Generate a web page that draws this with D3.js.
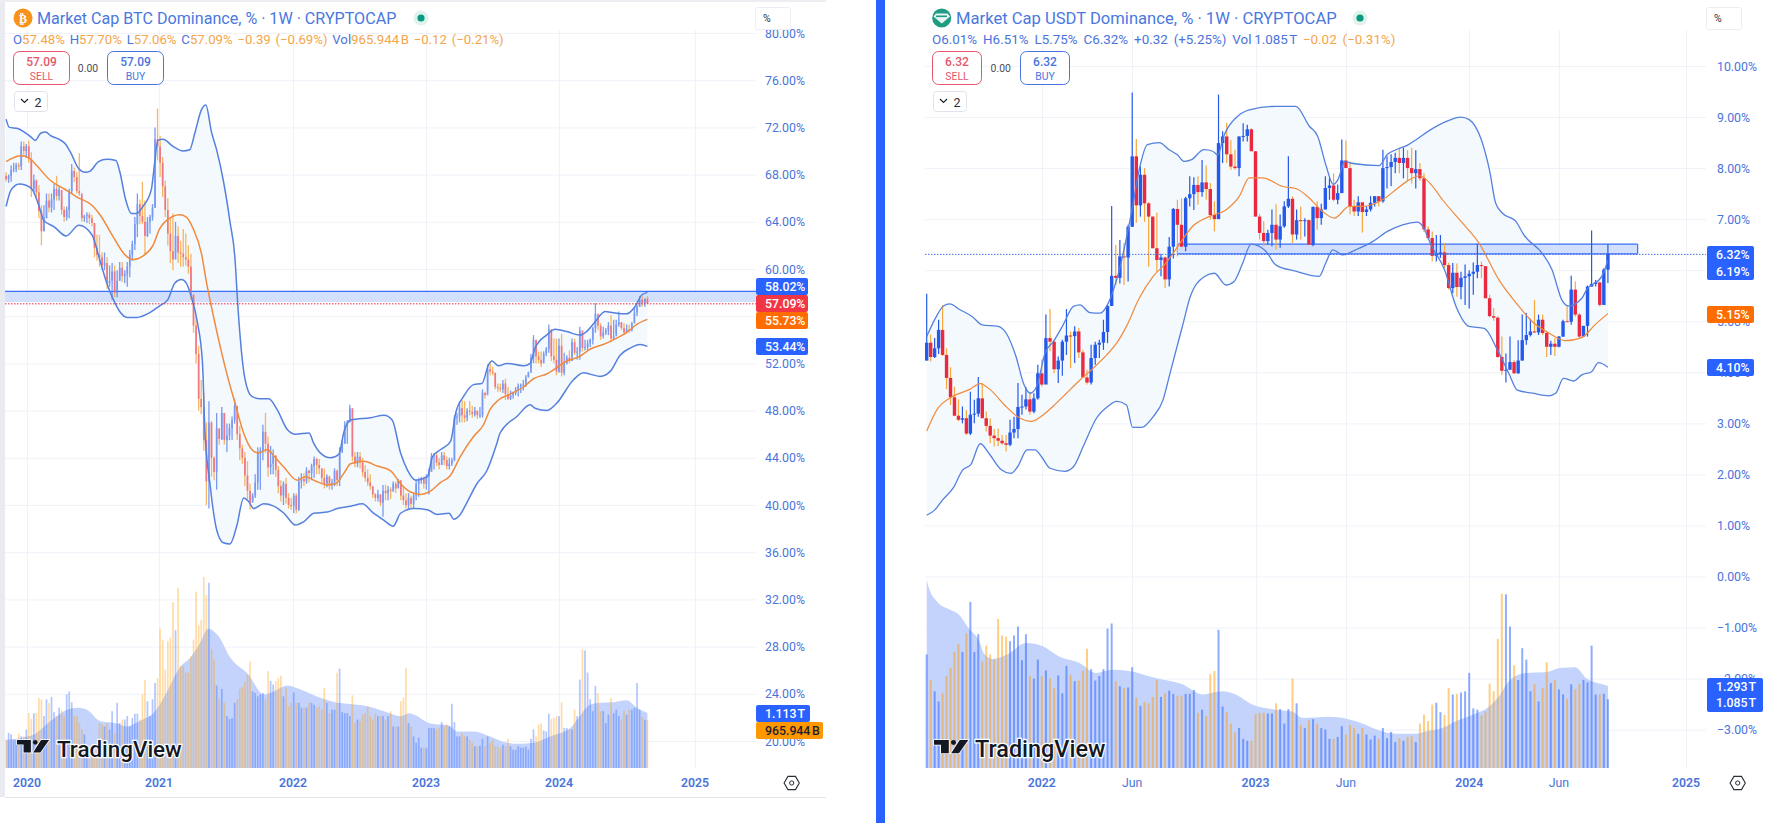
<!DOCTYPE html>
<html><head><meta charset="utf-8">
<style>html,body{margin:0;padding:0;background:#fff;overflow:hidden}svg{display:block}</style>
<script src="https://cdn.jsdelivr.net/npm/d3@7/dist/d3.min.js"></script>
</head><body><svg id="c" width="1767" height="823"></svg>
<script>
// ---------- BTC dominance, weekly bars from 2019-11-04 ----------
const btcStart = "2019-11-04";
const btcHigh = [
68.2,68.0,68.8,69.0,69.0,69.0,70.8,70.8,70.6,70.9, 69.9,68.0,67.6,67.1,65.4,65.4,66.4,66.4,66.4,67.2,
67.9,67.0,66.2,65.3,65.3,66.8,68.9,68.6,68.2,69.8, 65.1,64.6,64.8,64.8,64.6,63.9,62.9,62.9,61.4,61.4,
61.0,60.3,60.5,60.3,59.9,60.6,60.6,59.9,60.6,61.6, 62.4,64.4,66.4,65.9,67.4,65.8,64.4,64.6,65.5,72.0,
73.6,71.3,69.5,67.5,66.0,64.3,64.7,64.0,63.6,62.4, 63.4,63.0,62.0,61.3,57.9,56.0,53.5,50.6,49.5,47.0,
48.8,47.1,44.1,47.8,46.4,48.3,47.8,46.9,46.9,47.5, 49.0,47.2,46.7,45.1,44.5,43.7,41.8,41.0,42.6,44.9,
44.9,46.8,47.8,45.8,45.0,44.7,44.2,43.3,42.1,42.0, 42.3,41.0,40.6,41.0,41.0,42.4,42.7,42.7,43.2,43.0,
43.5,44.1,44.0,43.9,43.1,43.1,42.6,42.5,42.2,43.1, 43.0,44.9,45.5,47.1,47.2,48.5,48.1,44.5,44.5,44.5,
44.0,43.4,43.0,42.6,41.5,41.0,41.3,40.8,41.7,41.7, 41.6,41.5,42.0,42.0,42.2,41.8,41.6,41.0,41.0,40.8,
41.0,42.2,42.3,42.4,42.4,42.6,43.1,44.4,44.4,44.5, 44.0,44.5,44.5,44.1,44.0,44.0,47.6,47.8,48.8,48.9,
48.8,48.2,48.8,48.4,48.3,48.0,48.3,49.8,49.6,51.9, 52.1,51.7,51.2,50.3,50.3,50.6,50.7,50.0,49.7,49.6,
50.0,50.3,50.3,50.6,51.0,51.3,52.8,54.4,54.0,53.0, 53.0,53.0,53.4,55.3,54.1,54.1,54.1,54.1,54.5,52.9,
52.7,53.1,54.1,54.1,53.4,55.1,54.1,54.0,54.0,54.1, 55.1,57.1,55.7,55.4,55.1,55.0,55.5,56.1,55.7,55.7,
56.4,55.4,55.4,55.3,55.3,55.5,56.7,57.0,57.7,57.7, 57.5,57.70];
const btcLow = [
67.4,67.3,67.4,68.2,68.2,68.4,68.4,69.6,69.4,69.0, 66.1,66.5,66.0,64.3,62.0,63.2,64.3,64.8,64.8,65.0,
65.8,65.8,64.6,64.0,64.1,64.3,66.4,67.4,66.4,66.2, 64.0,64.0,63.9,63.8,63.6,61.0,60.7,60.2,59.9,59.9,
58.3,58.5,57.4,57.6,57.6,59.0,58.9,58.8,58.5,59.3, 60.7,61.6,62.7,63.8,63.8,61.2,62.7,63.0,64.1,65.2,
69.2,67.8,66.1,64.4,62.0,60.5,59.9,61.3,60.5,60.2, 60.2,60.3,59.6,57.4,54.6,52.0,48.0,47.7,44.6,40.0,
39.7,42.4,42.1,41.3,45.1,45.5,45.1,44.5,45.5,45.5, 46.9,45.5,43.8,43.5,41.6,40.4,39.6,40.4,40.6,41.3,
41.3,43.8,44.4,42.4,42.6,42.6,42.4,41.0,40.3,40.0, 40.1,39.7,39.6,39.3,39.3,39.5,41.4,41.6,41.8,41.9,
42.1,42.3,42.6,42.6,41.8,41.4,41.5,41.3,41.3,41.6, 41.6,41.6,44.4,45.2,45.2,47.2,43.7,43.2,43.2,43.1,
42.4,42.0,41.6,41.3,40.6,40.3,40.3,39.9,39.0,40.4, 40.4,40.5,41.1,41.0,41.5,40.4,40.0,39.7,39.6,39.7,
39.7,40.4,40.7,41.8,41.4,41.3,40.9,42.9,43.0,43.3, 43.0,43.4,43.4,43.0,43.0,43.3,43.7,46.8,47.0,47.0,
47.0,47.1,47.6,47.4,47.5,47.3,47.4,47.4,49.0,49.7, 51.0,51.0,49.8,49.6,49.6,49.5,48.9,48.9,48.9,49.0,
49.3,49.2,49.5,49.7,50.0,50.9,51.6,52.0,52.0,52.0, 51.7,52.3,52.6,52.9,52.2,52.0,51.0,51.2,50.9,51.0,
51.9,52.0,52.6,52.7,52.3,52.3,53.0,53.1,53.1,53.4, 53.6,54.6,54.8,54.0,54.1,54.4,54.4,53.8,54.0,54.6,
55.1,54.8,54.4,54.6,54.6,54.7,55.4,56.0,56.8,56.8, 56.8,57.06];
const btcClose = [
67.6,67.9,68.4,68.5,68.8,68.7,70.4,70.0,70.4,69.3, 66.8,67.5,66.5,64.9,63.2,64.3,65.8,65.2,65.9,66.8,
66.2,66.7,65.0,64.4,65.0,66.6,68.3,67.8,66.6,66.4, 64.3,64.5,64.6,64.3,63.9,61.8,61.2,61.0,60.3,60.5,
58.8,59.0,59.8,58.0,59.0,60.1,59.4,59.6,60.2,61.2, 62.1,63.8,65.5,64.5,64.0,62.8,64.0,64.4,65.2,71.0,
70.4,69.0,67.0,65.0,63.0,61.5,60.8,62.8,61.4,61.3, 61.0,60.8,60.2,57.8,55.2,52.8,49.0,48.3,45.5,42.0,
47.0,44.0,42.8,46.5,45.6,47.8,45.5,45.9,46.5,47.2, 48.4,46.0,44.8,44.0,42.5,41.2,40.2,40.8,41.9,44.5,
44.6,46.2,45.2,43.2,43.5,44.2,43.0,41.6,40.8,41.8, 40.6,40.0,39.9,40.8,39.6,42.0,42.2,42.0,42.9,42.7,
43.3,43.9,43.4,43.1,42.3,41.8,42.4,41.7,41.9,42.9, 42.1,44.5,45.2,46.8,47.0,48.2,44.1,43.5,44.1,43.6,
42.8,42.3,41.9,41.6,40.9,40.6,40.9,40.2,41.2,41.0, 41.3,41.2,41.8,41.4,42.1,40.8,40.4,40.0,40.6,40.1,
40.8,41.8,42.1,42.3,41.8,42.4,42.8,44.1,44.2,43.6, 43.4,44.2,43.8,43.3,43.5,43.8,47.4,47.5,48.2,47.6,
47.4,48.0,47.9,47.7,48.0,47.6,47.6,49.5,49.3,51.5, 51.3,51.2,50.0,49.9,49.8,50.3,49.4,49.0,49.3,49.5,
49.8,50.1,50.2,50.2,50.8,51.2,52.5,54.0,52.6,52.3, 52.0,52.8,53.2,54.9,52.6,52.3,51.3,53.5,51.2,52.0,
52.5,52.2,53.8,52.9,53.0,54.8,53.3,53.4,53.7,54.0, 55.0,56.2,55.2,54.3,54.6,54.8,55.2,54.1,54.3,55.3,
55.5,55.0,54.6,54.9,54.8,55.4,56.3,56.8,57.4,57.1, 57.48,57.09];
const btcFirstOpen = 67.9;
const btcVolume = [ // trillions
.57,.71,.68,.57,.57,.70,.64,.64,.78,1.11, .99,1.11,1.11,1.42,1.39,1.05,1.39,1.32,1.44,1.13,
1.05,1.22,1.17,1.05,1.49,1.55,1.33,1.05,1.05,.91, .78,.68,.37,.37,.27,.24,.44,.91,.88,.84,
.91,.78,1.15,.71,1.32,.91,.98,.98,1.05,.84, 1.01,1.10,1.10,.98,1.49,1.78,1.35,1.05,1.39,1.72,
1.82,2.82,2.60,1.99,2.57,2.64,3.36,2.79,3.65,2.06, 2.06,1.93,1.93,2.26,2.60,3.57,2.89,3.00,3.87,3.50,
3.75,2.40,2.20,1.67,1.39,1.60,1.32,1.05,.99,1.01, 1.32,1.39,1.60,1.64,1.74,1.89,2.16,1.55,1.52,1.45,
1.49,1.52,1.39,1.96,1.76,1.69,1.76,1.82,1.87,1.45, 1.62,1.25,1.32,1.53,1.32,1.32,1.22,1.22,1.22,1.33,
1.32,1.28,1.22,1.25,1.18,1.62,1.32,1.11,1.18,1.18, 1.93,2.01,1.13,1.11,1.11,1.05,1.47,.91,.98,.95,
1.08,1.11,1.25,1.05,.98,1.10,1.05,1.05,1.05,.98, 1.05,1.15,.84,.84,.84,1.35,1.42,2.03,.91,.84,
.64,.51,.61,.41,.41,.41,.81,.81,.81,.78, .81,.93,.84,.88,.84,1.30,.93,.64,.64,.70,
.64,.64,.57,.51,.44,.44,.45,.59,.44,.64, .51,.57,.44,.44,.41,.47,.44,.59,.44,.37,
.37,.44,.41,.41,.43,.37,.59,.78,.64,.88, .90,.76,.74,1.10,.99,1.01,1.05,1.05,1.33,.81,
.81,.78,.78,1.18,1.05,1.79,2.40,2.38,1.93,1.39, 1.15,1.66,1.51,1.15,1.15,.91,1.08,1.42,1.11,1.18,
1.05,.98,1.15,1.08,1.18,1.18,1.22,1.72,1.18,1.03, .98,.966];
const btcUpperBand = [[0,72.7],[1.3,72],[4.6,71.9],[7.2,71.6],[9.8,71.2],[11.5,70.9],[13.7,71.5],[15.7,71.6],[17.6,71.3],[20.9,71],[23.5,70.6],[25.5,69.9],[28.8,68.5],[31.4,68.2],[33.3,68.3],[36.6,69.1],[39.9,69.3],[43.5,69.2],[45.1,68.2],[47.1,66.1],[49.7,64.7],[51.6,64.7],[54.2,65.3],[57.5,66.7],[58.8,68.9],[60.1,70.9],[62.1,71],[66,70.4],[69.9,70],[72.5,70.1],[74.5,71.5],[77.1,73.5],[78.8,73.9],[81,71.6],[83,70.1],[85.6,67.5],[88.2,64],[90.2,60.7],[91.1,57.4],[94.1,50.6],[96.7,49.2],[100,49],[103.3,49],[106.5,48.1],[110.5,46.4],[113.7,46],[119,46.1],[120.9,45.2],[123.5,44.4],[127.5,44],[130.7,44.3],[132.7,46.2],[135.3,47.2],[143.1,47.4],[148.4,47.6],[151.6,47.2],[154.9,44.4],[157.5,43],[160.8,42.1],[165.4,42.4],[167.4,44.1],[170.6,44.7],[174.5,45.4],[176.5,47.8],[179.6,49.2],[183.5,50.2],[186.8,50.3],[189.4,51.9],[190.7,52.2],[193.3,51.8],[196.6,52],[203.1,51.8],[205.7,52],[207.6,53.3],[212.1,54.4],[215.5,54.9],[220,54.7],[225,54.4],[227.6,54.7],[230.8,55.5],[234.7,56.4],[237.9,56.3],[243,56.2],[246.2,56.8],[248.8,57.8],[251,58.02]];
const btcBasis = [[0,69.1],[2.6,69.4],[5.9,69.6],[9.2,69.4],[12.4,68.7],[17.6,67.5],[22.9,66.8],[28.1,66.1],[34,65.4],[37.2,64.6],[42.5,62.7],[47.1,61.2],[50.3,60.8],[54.2,61.1],[58.2,62],[60.8,63.4],[63.4,64.1],[68.6,64.6],[71.2,64.4],[73.9,63.4],[77.1,61.3],[79.1,58.8],[80.4,57.4],[87.6,50.6],[90.2,48.6],[93.5,46.1],[96.7,44.7],[99.3,44.4],[102.6,44.7],[105.9,44],[109.2,43.2],[114.4,42.1],[117.7,42.4],[120.9,42.1],[126.2,41.7],[129.4,41.8],[132.7,42.7],[135.3,43.5],[140.5,43.7],[145.7,43.3],[151,42.9],[154.9,41.8],[158.8,41.1],[162.8,40.9],[166,41.1],[170.5,41.9],[174.4,42.5],[178.3,44.1],[183.5,45.8],[187.4,46.8],[190,48.1],[193.3,48.9],[197.9,49.4],[203.1,50],[207,50.7],[212.1,51.1],[220,52.2],[225,52.6],[228.9,53.2],[234,53.6],[237.9,54],[243,54.6],[246.9,55.3],[251,55.73]];
const btcLowerBand = [[0,65.3],[2,66.7],[5.2,67.2],[7.8,67.1],[10.5,66.7],[13.1,65.3],[15,64.1],[18.9,63.6],[23.8,62.8],[28.8,63.7],[34,62.9],[37.2,60.7],[39.9,58.8],[42.5,57.4],[45,56.4],[48,55.9],[52,55.9],[56,56.2],[59,56.6],[61,56.9],[64,57.4],[66.7,58.8],[69.3,59.1],[71.2,58.8],[73.2,57.6],[75.5,55.5],[77.5,52],[78.4,46.4],[80.4,41.8],[83,37.9],[85.6,36.8],[88.2,36.7],[90.8,38.2],[93.5,40.6],[95.4,40.3],[97.4,39.7],[101.3,40.1],[105.2,39.9],[109.2,39.3],[113.7,38.3],[117,38.6],[120.9,39.3],[126.2,39.4],[130.1,39.7],[135.3,39.9],[139.9,40.1],[143.8,39.4],[148.4,38.7],[152,38.2],[154.9,39.3],[160.1,39.7],[165.4,39.6],[169.3,39.2],[173.9,39.3],[175.7,38.8],[178.3,39.2],[180.9,40.2],[184.8,41.8],[188.7,42.9],[192.6,45.2],[193.9,46.1],[200.5,47.5],[205.7,48.5],[207.6,48.2],[212.1,48],[216,48.6],[222.5,50.6],[226.4,51.2],[232.8,50.9],[236.6,51.3],[240.5,52.7],[244.4,53.3],[248.2,53.6],[251,53.44]];
const btcVolumeAvg = [[0,.57],[8.5,.64],[11.1,.68],[17.6,.95],[24.2,1.18],[28.1,1.22],[32,1.18],[37.2,.95],[43.8,.90],[47.7,.84],[53,.95],[59.5,1.18],[63.4,1.52],[68.6,2.03],[73.2,2.26],[76.5,2.53],[79.7,2.82],[83.7,2.67],[88.2,2.24],[95.4,1.89],[101.3,1.49],[105.2,1.55],[110.5,1.67],[115.7,1.59],[123.5,1.42],[130.1,1.32],[134,1.30],[141.8,1.25],[148.4,1.15],[155,1.05],[158.2,1.11],[166.7,.90],[173.9,.86],[177,.74],[183.5,.74],[190,.64],[196.6,.51],[201.8,.49],[207,.51],[213.5,.64],[221.3,.81],[225,1.05],[228.9,1.28],[232.8,1.32],[237.9,1.33],[243,1.37],[246.9,1.22],[251,1.113]];
const btcPriceTicks = [80,76,72,68,64,60,52,48,44,40,36,32,28,24,20];
const btcGridOnlyTicks = [56];
const btcTimeTicks = ["2020","2021","2022","2023","2024","2025"];

// ---------- USDT dominance, weekly bars from 2021-06-14 ----------
const usdtStart = "2021-06-14";
const usdtHigh = [
5.54,4.74,4.67,5.03,5.32,4.47,4.1,3.72,3.47,3.33, 3.26,3.62,3.46,3.91,3.79,3.23,3.1,2.89,2.9,2.77,
2.77,3.07,3.13,3.79,3.56,3.71,3.62,3.59,4.15,4.25, 5.13,5.24,4.64,4.31,4.64,5.24,4.8,4.9,4.87,4.44,
4.05,4.54,4.6,4.64,5.03,5.32,7.26,6.5,6.59,6.53, 6.89,9.48,8.57,8.03,8.0,7.33,7.05,7.13,6.32,6.27,
6.65,7.22,7.38,7.41,7.44,7.84,7.82,7.84,8.16,8.05, 7.71,7.35,9.44,8.72,8.89,8.55,8.36,8.62,8.88,8.85,
8.78,8.33,7.1,6.96,6.79,7.19,7.29,7.09,7.35,8.23, 7.45,7.19,7.25,7.02,7.0,7.25,7.35,7.3,7.84,7.81,
7.9,7.68,8.56,8.54,8.13,7.38,7.45,7.32,7.25,7.45, 7.45,7.45,8.36,8.23,8.27,8.3,8.4,8.4,8.35,8.4,
8.35,8.1,7.9,6.86,6.76,6.69,6.69,6.53,6.15,6.14, 6.13,5.97,6.11,6.0,6.15,6.52,6.17,6.04,5.52,5.26,
5.1,4.7,4.37,4.7,4.24,4.63,5.13,5.16,5.05,5.42, 5.13,5.13,4.8,4.62,4.67,4.71,5.03,5.32,5.89,5.78,
5.16,4.91,5.7,6.78,5.81,5.78,6.04,6.51];
const usdtLow = [
4.23,4.21,4.28,4.36,4.32,3.67,3.36,3.14,3.04,3.0, 2.77,2.77,3.0,3.13,3.13,2.84,2.61,2.55,2.55,2.58,
2.45,2.55,2.71,2.71,3.17,3.27,3.17,3.2,3.46,3.72, 3.79,4.41,3.98,3.79,3.93,4.34,4.08,4.18,4.28,3.9,
3.76,3.76,4.15,4.28,4.44,4.57,5.3,5.71,5.74,5.71, 5.78,6.85,6.93,7.05,6.95,6.07,6.43,5.97,5.88,5.65,
5.68,6.23,6.27,6.46,6.37,7.25,7.18,7.28,7.44,7.38, 6.99,6.76,7.02,8.1,8.1,7.97,7.97,7.84,8.52,8.52,
8.33,7.05,6.6,6.47,6.5,6.47,6.4,6.44,6.83,7.22, 6.53,6.6,6.6,6.66,6.5,6.47,6.79,6.89,7.19,7.38,
7.35,7.29,7.51,8.0,7.09,7.06,7.06,6.74,7.06,7.15, 7.25,7.25,7.32,7.6,7.65,7.9,7.9,7.8,7.75,7.7,
7.6,7.75,6.75,6.6,6.17,6.17,6.24,6.04,5.62,5.55, 5.48,5.43,5.32,5.25,5.52,5.84,5.84,5.45,5.08,5.01,
4.28,3.95,3.8,4.05,3.97,3.97,4.23,4.54,4.7,4.77, 4.73,4.73,4.3,4.34,4.32,4.49,4.69,4.99,4.93,5.09,
4.67,4.69,4.7,5.68,5.68,5.29,5.32,5.75];
const usdtClose = [
4.58,4.3,4.47,4.83,4.34,3.89,3.51,3.15,3.07,3.1, 2.8,3.17,3.19,3.49,3.1,2.95,2.76,2.71,2.66,2.61,
2.58,2.82,2.89,3.32,3.33,3.47,3.23,3.49,3.98,3.76, 4.67,4.6,4.06,4.23,4.6,4.72,4.71,4.8,4.39,3.9,
3.8,4.28,4.54,4.58,4.79,5.3,5.89,5.85,6.27,6.25, 6.85,8.23,7.27,7.87,7.31,7.05,6.43,6.2,6.25,5.82,
6.46,7.2,6.89,6.46,7.41,7.49,7.67,7.53,7.72,7.59, 7.08,7.0,8.49,8.62,8.27,8.03,8.0,8.62,8.63,8.76,
8.33,7.05,6.73,6.57,6.73,6.89,6.6,6.86,7.25,7.4, 6.7,6.98,6.96,6.98,6.5,7.24,7.02,7.19,7.61,7.66,
7.38,7.51,8.15,8.0,7.25,7.15,7.33,7.14,7.19,7.32, 7.45,7.35,8.0,8.02,8.12,8.2,8.1,8.2,8.0,7.9,
7.98,7.8,6.8,6.63,6.28,6.33,6.35,6.1,5.65,5.95, 5.67,5.85,5.88,5.93,5.97,6.1,6.08,5.45,5.1,5.07,
4.3,4.03,4.05,4.2,3.98,4.23,4.63,4.73,4.8,4.78, 5.03,4.77,4.5,4.56,4.5,4.7,5.0,4.99,5.62,5.13,
4.7,4.91,5.68,5.73,5.76,5.32,6.01,6.32];
const usdtFirstOpen = 4.23;
const usdtVolume = [
1.79,1.39,1.21,1.05,1.18,1.45,1.58,1.83,1.95,1.83, 2.12,2.62,1.83,2.11,1.68,1.93,1.79,1.71,2.35,2.09,
2.07,2.0,2.09,2.23,1.7,2.11,1.45,1.41,1.71,1.45, 1.54,1.41,1.26,1.46,1.18,1.61,1.47,1.37,1.38,1.53,
1.88,1.56,1.38,1.45,1.56,2.2,2.28,1.37,1.29,1.26, 1.27,1.59,1.11,.98,1.04,1.02,1.12,1.39,1.12,1.18,
1.22,1.17,1.14,1.14,1.17,1.17,1.23,.87,.92,.82, 1.48,1.53,2.18,.97,.88,.7,.56,.63,.46,.43,
.43,.85,.87,.87,.86,.86,1.02,.93,.7,.93, 1.41,1.02,.68,.63,.75,.77,.7,.63,.61,.46,
.46,.49,.66,.53,.68,.63,.54,.63,.53,.45, .51,.46,.63,.47,.57,.41,.47,.43,.49,.5,
.41,.7,.84,.74,1.0,1.03,.88,.84,1.26,1.16, 1.17,1.19,1.21,1.5,.94,.92,.83,.89,1.33,1.21,
2.04,2.75,2.74,2.23,1.62,1.39,1.89,1.71,1.21,1.32, 1.05,1.26,1.67,1.34,1.39,1.24,1.16,1.09,1.32,1.24,
1.33,1.39,1.35,1.93,1.16,1.16,1.17,1.085];
const usdtUpperBand = [[0,4.7],[2.2,5.06],[4.2,5.3],[5.8,5.34],[8.3,5.23],[11.5,5.09],[14,4.93],[18,4.9],[20,4.77],[22.5,4.31],[24.5,3.76],[26.1,3.59],[27.7,3.72],[29.8,4.38],[31.8,4.6],[34.2,4.93],[36.7,5.29],[38.3,5.32],[40.7,5.17],[43.2,5.16],[45.2,5.36],[47.2,5.81],[51.1,7.25],[52.7,7.97],[54.7,8.46],[57.6,8.5],[60,8.36],[62,8.26],[63.7,8.13],[65.3,8.16],[68.5,8.36],[70.6,8.33],[71.8,8.26],[73.4,8.65],[76.6,9.01],[79.5,9.14],[86,9.21],[90.8,9.21],[94.1,8.82],[96.1,8.63],[98.2,8.04],[99.9,7.68],[101.1,7.78],[102.7,8.13],[104.7,8.09],[111.1,8.05],[113.1,8.27],[115.2,8.36],[118,8.45],[120,8.55],[123,8.72],[127,8.9],[131,9.0],[133,8.95],[136,8.55],[138,7.95],[139.5,7.31],[141.1,7.12],[144.4,6.96],[146.4,6.69],[150.9,6.33],[153.3,6.01],[155.7,5.42],[157.3,5.3],[160.6,5.45],[161.8,5.62],[165.5,5.88],[167,6.19]];
const usdtBasis = [[0,2.85],[2.6,3.27],[6.6,3.53],[10.7,3.66],[13.5,3.78],[16,3.66],[19.6,3.36],[22.9,3.13],[26.5,3.04],[29.4,3.17],[32.6,3.4],[35,3.59],[38.3,3.85],[41.5,4.08],[44.8,4.34],[47.2,4.57],[49.6,4.9],[52.7,5.45],[56,5.87],[59.2,6.14],[62.4,6.5],[65.7,6.86],[69.7,7.05],[73.8,7.18],[77,7.44],[79.5,7.81],[82.7,7.81],[87.6,7.64],[90.8,7.6],[94,7.42],[97.3,7.15],[100.2,7.02],[103.8,7.25],[107.1,7.25],[111.9,7.38],[115.2,7.58],[118,7.75],[121,7.85],[124,7.65],[126.5,7.38],[131.4,6.92],[135.4,6.53],[140.3,5.81],[145.2,5.29],[148.5,4.99],[152.5,4.77],[156.5,4.62],[160.6,4.68],[163.8,4.93],[167,5.15]];
const usdtLowerBand = [[0,1.2],[2,1.3],[4,1.5],[6.65,1.73],[9.1,2.09],[11.1,2.19],[13.5,2.6],[15.6,2.42],[18.8,2.09],[21.2,2.02],[22.9,2.15],[25.3,2.48],[27.3,2.48],[28.9,2.35],[31,2.12],[34.6,2.06],[36.7,2.15],[39.1,2.55],[42.3,3.1],[45.2,3.34],[47.2,3.43],[49.6,3.36],[51.1,2.92],[53.3,2.92],[56.1,3.13],[58.5,3.46],[60.2,3.98],[63.4,4.96],[65,5.45],[68.5,5.87],[71,5.94],[73.8,5.71],[75.8,5.78],[77.9,6.14],[79.9,6.51],[83.5,6.37],[86,6.1],[90.8,5.98],[96.5,5.88],[98.1,6.14],[99.8,6.4],[102.2,6.3],[105.4,6.4],[109.5,6.56],[113.1,6.76],[116.8,6.89],[120.4,6.94],[121.7,6.86],[123.7,6.5],[127,6.01],[129.8,5.29],[133,4.9],[136.7,4.86],[139.9,4.44],[142.7,3.98],[144.8,3.65],[148.5,3.59],[152.5,3.54],[154.2,3.59],[156.1,3.88],[158.6,3.83],[160.6,3.95],[163,4.01],[164.7,4.19],[167,4.1]];
const usdtVolumeAvg = [[0,2.98],[.4,2.87],[2.8,2.61],[5.7,2.5],[8.1,2.42],[10.5,2.21],[13,2.03],[14.6,1.79],[16.6,1.72],[20.3,1.79],[25.1,1.97],[29.2,1.92],[33.2,1.76],[38.1,1.66],[42.1,1.5],[46.2,1.55],[50.2,1.53],[56.7,1.42],[63.2,1.32],[68.1,1.16],[72.9,1.21],[76.2,1.16],[80.2,1.0],[85.9,.92],[89.9,.89],[92.4,.79],[98.9,.81],[107.9,.68],[110.3,.61],[115.2,.54],[120,.54],[122.5,.58],[126.5,.63],[129.8,.74],[133.8,.84],[137.9,.97],[140.3,1.13],[142.7,1.37],[146.8,1.5],[151.6,1.51],[155.7,1.58],[159,1.59],[161.8,1.41],[166.7,1.3],[167,1.293]];
const usdtPriceTicks = [10,9,8,7,5,4,3,2,1,0,-1,-2,-3];
const usdtGridOnlyTicks = [6];
const usdtTimeTicks = [["2022","2022-01-03",1],["Jun","2022-06-06",0],["2023","2023-01-02",1],["Jun","2023-06-05",0],["2024","2024-01-01",1],["Jun","2024-06-03",0],["2025","2025-01-01",1]];

const svg = d3.select("#c");
const BLUE="#2962ff", LABEL="#4a74dc", GRID="#eff2f9", ORANGE="#f6a73f", RED="#e9293f";
const DAY=864e5;

function text(g,x,y,s,o={}){
  return g.append("text").attr("x",x).attr("y",y).text(s)
    .attr("font-family",o.family||"Roboto, sans-serif").attr("font-size",o.size||12)
    .attr("fill",o.fill||LABEL).attr("text-anchor",o.anchor||"start")
    .attr("font-weight",o.weight||400).attr("dominant-baseline",o.base||"central");
}
function tag(g,x0,x1,y0,y1,fill,s,color){
  g.append("rect").attr("x",x0).attr("y",y0).attr("width",x1-x0).attr("height",y1-y0).attr("rx",2).attr("fill",fill);
  text(g,x0+9,(y0+y1)/2+.5,s,{fill:color||"#fff",size:12.3,weight:500});
}
function panel(p){
  const g=svg.append("g");
  const start=new Date(p.start+"T00:00:00Z");
  const date=i=>new Date(+start+i*7*DAY);
  const x=d3.scaleUtc().domain(p.timeDomain.map(d=>new Date(d+"T00:00:00Z"))).range(p.timeRange);
  const y=d3.scaleLinear().domain(p.priceDomain).range(p.priceRange);
  const v=d3.scaleLinear().domain([0,4]).range([p.volBase,p.volBase-4*p.volPerT]);
  const bars=p.close.map((c,i)=>({i,c,h:p.high[i],l:p.low[i],o:i?p.close[i-1]:p.firstOpen,vol:p.volume[i]}));
  const xi=i=>x(date(i));

  // grid
  g.append("g").selectAll("line").data([...p.priceTicks,...p.gridOnly]).join("line")
    .attr("x1",p.x0).attr("x2",p.gridRight).attr("y1",d=>y(d)+.5).attr("y2",d=>y(d)+.5).attr("stroke",GRID);
  g.append("g").selectAll("line").data(p.timeTicks).join("line")
    .attr("x1",d=>Math.round(x(d.date))+.5).attr("x2",d=>Math.round(x(d.date))+.5)
    .attr("y1",p.gridTop).attr("y2",p.volBase).attr("stroke",GRID);

  // volume
  g.append("path").datum(p.volAvg).attr("fill","#c3d3fb")
    .attr("d",d3.area().x(d=>xi(d[0])).y0(p.volBase).y1(d=>v(d[1])).curve(d3.curveMonotoneX));
  g.append("g").selectAll("rect").data(bars).join("rect")
    .attr("x",d=>xi(d.i)-p.volW/2).attr("width",p.volW)
    .attr("y",d=>v(d.vol)).attr("height",d=>p.volBase-v(d.vol))
    .attr("fill",d=>d.c>=d.o?p.volUp:p.volDown);

  // bands
  const line=d3.line().x(d=>xi(d[0])).y(d=>y(d[1])).curve(d3.curveMonotoneX);
  const upperPath=line(p.upper), lowerPath=line(p.lower.slice().reverse());
  g.append("path").attr("d",upperPath+"L"+lowerPath.slice(1)+"Z").attr("fill","#f4f9fe");

  // zone
  g.append("rect").attr("x",x(p.zoneDates[0])).attr("width",x(p.zoneDates[1])-x(p.zoneDates[0]))
    .attr("y",y(p.zone[1])).attr("height",y(p.zone[0])-y(p.zone[1])).attr("fill","#cbdafc").attr("fill-opacity",.85);
  p.zoneEdges.forEach(e=>g.append("line").attr("x1",x(p.zoneDates[0])).attr("x2",x(p.zoneDates[1]))
    .attr("y1",y(e)).attr("y2",y(e)).attr("stroke",BLUE).attr("stroke-width",1.2).attr("opacity",.9));
  if(p.zoneBox){
    p.zoneDates.forEach(d=>g.append("line").attr("x1",x(d)).attr("x2",x(d))
      .attr("y1",y(p.zone[1])).attr("y2",y(p.zone[0])).attr("stroke",BLUE).attr("stroke-width",1.1));
  }

  // candles
  const cg=g.append("g").attr("opacity",p.candleOpacity);
  cg.selectAll("line").data(bars).join("line")
    .attr("x1",d=>xi(d.i)).attr("x2",d=>xi(d.i)).attr("y1",d=>y(d.h)).attr("y2",d=>y(d.l))
    .attr("stroke",d=>d.c>=d.o?p.upColor:ORANGE).attr("stroke-width",p.wickW);
  cg.selectAll("rect").data(bars).join("rect")
    .attr("x",d=>xi(d.i)-p.bodyW/2).attr("width",p.bodyW)
    .attr("y",d=>y(Math.max(d.o,d.c))).attr("height",d=>Math.max(1,Math.abs(y(d.o)-y(d.c))))
    .attr("fill",d=>d.c>=d.o?p.upColor:p.downColor);

  // lines
  [[p.upper,"#5580de",p.bandW],[p.lower,"#5580de",p.bandW],[p.basis,"#f08a3c",p.basisW]].forEach(([d,c,w])=>
    g.append("path").datum(d).attr("fill","none").attr("stroke",c).attr("stroke-width",w).attr("d",line));

  // last price line
  g.append("line").attr("x1",p.x0).attr("x2",p.gridRight).attr("y1",y(p.lastPrice)+.5).attr("y2",y(p.lastPrice)+.5)
    .attr("stroke",p.lastColor).attr("stroke-width",1).attr("stroke-dasharray","1.5 1.5");

  // axis labels
  p.priceTicks.forEach(t=>{
    const s=(t<0?"\u2212":"")+Math.abs(t).toFixed(2)+"%";
    text(g,p.labelX,y(t)+.5,s,{anchor:"start",size:12.3});
  });
  p.timeTicks.forEach(t=>text(g,x(t.date),783,t.label,{anchor:"middle",size:12.3,weight:t.major?600:400}));

  return {g,x,y,v};
}

// page chrome
svg.append("rect").attr("x",0).attr("y",0).attr("width",5).attr("height",797).attr("fill","#e9ebf0");
svg.append("rect").attr("x",5).attr("y",797).attr("width",821).attr("height",1).attr("fill","#e3e5ea");
svg.append("rect").attr("x",876).attr("y",0).attr("width",9).attr("height",823).attr("fill",BLUE);

const left=panel({
  start:btcStart,high:btcHigh,low:btcLow,close:btcClose,firstOpen:btcFirstOpen,volume:btcVolume,
  upper:btcUpperBand,basis:btcBasis,lower:btcLowerBand,volAvg:btcVolumeAvg,
  priceTicks:btcPriceTicks,gridOnly:btcGridOnlyTicks,priceDomain:[20,60],priceRange:[741,269],
  timeDomain:["2020-01-01","2021-01-01","2022-01-01","2023-01-01","2024-01-01","2025-01-01"],
  timeRange:[27,159,293,426,559,695],
  timeTicks:btcTimeTicks.map(l=>({label:l,date:new Date(l+"-01-01T00:00:00Z"),major:1})),
  x0:5,gridRight:756,gridTop:30,labelX:765,volBase:768,volPerT:49.4,volW:1.7,
  volUp:"rgba(41,98,255,.36)",volDown:"rgba(255,152,0,.34)",
  zone:[57.2,58.1],zoneEdges:[58.1],zoneBox:false,
  zoneDates:[new Date("2019-11-01T00:00:00Z"),new Date("2025-06-14T00:00:00Z")],
  bodyW:1.7,wickW:1.3,upColor:"#5f86ee",downColor:"#ee5a6c",candleOpacity:.82,bandW:1.5,basisW:1.5,
  lastPrice:57.09,lastColor:"#e9293f"
});
const right=panel({
  start:usdtStart,high:usdtHigh,low:usdtLow,close:usdtClose,firstOpen:usdtFirstOpen,volume:usdtVolume,
  upper:usdtUpperBand,basis:usdtBasis,lower:usdtLowerBand,volAvg:usdtVolumeAvg,
  priceTicks:usdtPriceTicks,gridOnly:usdtGridOnlyTicks,priceDomain:[0,10],priceRange:[576.5,66],
  timeDomain:["2021-06-14","2022-01-03","2024-01-01","2024-09-02","2025-01-01"],
  timeRange:[926.7,1041.8,1469.2,1612,1686],
  timeTicks:usdtTimeTicks.map(t=>({label:t[0],date:new Date(t[1]+"T00:00:00Z"),major:t[2]})),
  x0:925,gridRight:1706,gridTop:30,labelX:1717,volBase:768,volPerT:63.4,volW:2,
  volUp:"rgba(41,98,255,.52)",volDown:"rgba(255,152,0,.48)",
  zone:[6.32,6.51],zoneEdges:[6.32,6.51],zoneBox:true,
  zoneDates:[new Date("2022-08-22T00:00:00Z"),new Date("2024-10-14T00:00:00Z")],
  bodyW:3.4,wickW:1.2,upColor:"#2459ea",downColor:RED,candleOpacity:1,bandW:1.3,basisW:1.2,
  lastPrice:6.32,lastColor:"#3f6ee0"
});

// legend strip masks the top of the plot
svg.append("rect").attr("x",5).attr("y",0).attr("width",871).attr("height",29).attr("fill","#fff");
svg.append("rect").attr("x",885).attr("y",0).attr("width",882).attr("height",28).attr("fill","#fff");
svg.append("rect").attr("x",0).attr("y",0).attr("width",826).attr("height",2).attr("fill","#eceef2");

// price scale tags
const L=svg.append("g");
tag(L,756,808,278,295,BLUE,"58.02%");
tag(L,756,808,295,312,"#f23645","57.09%");
tag(L,756,808,312,329,"#ff6d00","55.73%");
tag(L,756,808,338,355,BLUE,"53.44%");
tag(L,756,810,705,722,BLUE,"1.113\u202fT");
tag(L,756,823,722,739,"#ff9800","965.944\u202fB","#1e2230");
const R=svg.append("g");
R.append("rect").attr("x",1707).attr("y",246).attr("width",47).attr("height",34).attr("rx",2).attr("fill",BLUE);
text(R,1716,255,"6.32%",{fill:"#fff",size:12.3,weight:500});
text(R,1716,272,"6.19%",{fill:"#fff",size:12.3,weight:500});
tag(R,1707,1754,306,323,"#ff6d00","5.15%");
tag(R,1707,1754,359,376,BLUE,"4.10%");
R.append("rect").attr("x",1707).attr("y",678).attr("width",56).attr("height",34).attr("rx",2).attr("fill",BLUE);
text(R,1716,687,"1.293\u202fT",{fill:"#fff",size:12.3,weight:500});
text(R,1716,703,"1.085\u202fT",{fill:"#fff",size:12.3,weight:500});

// legend
function legend(o){
  const g=svg.append("g");
  text(g,o.titleX,18.5,o.title,{size:o.titleSize,fill:"#4a78e0"});
  const t=g.append("text").attr("x",o.subX).attr("y",39).attr("font-family","Roboto, sans-serif")
    .attr("font-size",o.subSize).attr("dominant-baseline","central").attr("word-spacing",o.subWord);
  o.sub.forEach(([s,c])=>t.append("tspan").text(s).attr("fill",c));
  g.append("circle").attr("cx",o.dotX).attr("cy",18).attr("r",7.5).attr("fill","#dff3ec");
  g.append("circle").attr("cx",o.dotX).attr("cy",18).attr("r",3.6).attr("fill","#089981");
  const box=(x0,w,c,val,lab)=>{
    g.append("rect").attr("x",x0+.5).attr("y",51.5).attr("width",w-1).attr("height",33).attr("rx",6)
      .attr("fill","#fff").attr("stroke",c).attr("stroke-width",1);
    text(g,x0+w/2,61.5,val,{anchor:"middle",fill:c,size:12,weight:500});
    text(g,x0+w/2,76,lab,{anchor:"middle",fill:c,size:10.4});
  };
  box(o.sellX,o.boxW,"#e5566a",o.price,"SELL");
  box(o.buyX,o.boxW,"#4a74dc",o.price,"BUY");
  text(g,o.spreadX,68.5,"0.00",{anchor:"middle",fill:"#4b4f58",size:10.4});
  g.append("rect").attr("x",o.sellX+1.5).attr("y",91.5).attr("width",33).attr("height",20).attr("rx",3)
    .attr("fill","#fff").attr("stroke","#e0e3eb");
  g.append("path").attr("fill","none").attr("stroke","#1e2230").attr("stroke-width",1.2)
    .attr("d",`M${o.sellX+8},99 l3.5,3.5 l3.5,-3.5`);
  text(g,o.sellX+25,102,"2",{anchor:"middle",fill:"#2a2e39",size:12.5});
  g.append("rect").attr("x",o.pctX+.5).attr("y",7.5).attr("width",35).attr("height",22).attr("rx",2)
    .attr("fill","#fff").attr("stroke","#eceef3");
  text(g,o.pctX+8,18.5,"%",{size:10.5,fill:"#2a2e39"});
  const gx=o.gearX, hex=d3.range(6).map(k=>{const a=Math.PI/3*k;return [gx+7.6*Math.cos(a),783+7.6*Math.sin(a)];});
  g.append("path").attr("d","M"+hex.join("L")+"Z").attr("fill","none").attr("stroke","#2a2e39").attr("stroke-width",1.1);
  g.append("circle").attr("cx",gx).attr("cy",783).attr("r",2.1).attr("fill","none").attr("stroke","#2a2e39");
  const w=g.append("g").attr("transform",`translate(${o.wmX},740) scale(${o.wmS})`);
  w.append("path").attr("d","M0 0H19V17H9V6H0Z M33 0L22 17H32L44 0Z").attr("fill","#131722").attr("stroke","#fff").attr("stroke-width",2).attr("paint-order","stroke");
  w.append("circle").attr("cx",25).attr("cy",3.2).attr("r",3.2).attr("fill","#131722");
  text(g,o.wmX+o.wmTextDx,749,"TradingView",{size:o.wmSize,fill:"#131722",weight:500})
    .attr("stroke","#fff").attr("stroke-width",2.5).attr("paint-order","stroke");
  return g;
}
const OR="#f5a54a", LB="#4a74dc";
const lg=legend({title:"Market Cap BTC Dominance, % \u00b7 1W \u00b7 CRYPTOCAP",titleX:37,titleSize:16.1,subX:13,subSize:13.2,subWord:1.5,
  sub:[["O",LB],["57.48% ",OR],["H",LB],["57.70% ",OR],["L",LB],["57.06% ",OR],["C",LB],["57.09% ",OR],["\u22120.39 (\u22120.69%) ",OR],["Vol",LB],["965.944\u202fB ",OR],["\u22120.12 (\u22120.21%)",OR]],
  dotX:421,sellX:13,buyX:107,boxW:57,spreadX:88,price:"57.09",pctX:755,gearX:791.7,wmX:17,wmS:.73,wmTextDx:40,wmSize:22.4});
lg.append("circle").attr("cx",23).attr("cy",18).attr("r",9.5).attr("fill","#f7931a");
text(lg,23,18.5,"\u20bf",{anchor:"middle",fill:"#fff",size:12,weight:700,family:"DejaVu Sans"});
const rg=legend({title:"Market Cap USDT Dominance, % \u00b7 1W \u00b7 CRYPTOCAP",titleX:956,titleSize:16.6,subX:932,subSize:13.4,subWord:2.6,
  sub:[["O6.01% H6.51% L5.75% C6.32% +0.32 (+5.25%) Vol\u20091.085\u202fT ",LB],["\u22120.02 (\u22120.31%)",OR]],
  dotX:1360,sellX:932,buyX:1020,boxW:50,spreadX:1000.7,price:"6.32",pctX:1706,gearX:1737.7,wmX:934,wmS:.78,wmTextDx:41,wmSize:23.4});
rg.append("circle").attr("cx",941.7).attr("cy",18).attr("r",9.5).attr("fill","#1f9c83");
rg.append("path").attr("d","M936 14H947.5L950 17L941.8 24L933.5 17Z").attr("fill","#fff").attr("fill-opacity",.9).attr("transform","translate(0,-.5)");
rg.append("rect").attr("x",936).attr("y",15.5).attr("width",11).attr("height",1.6).attr("fill","#1f9c83");
</script></body></html>
